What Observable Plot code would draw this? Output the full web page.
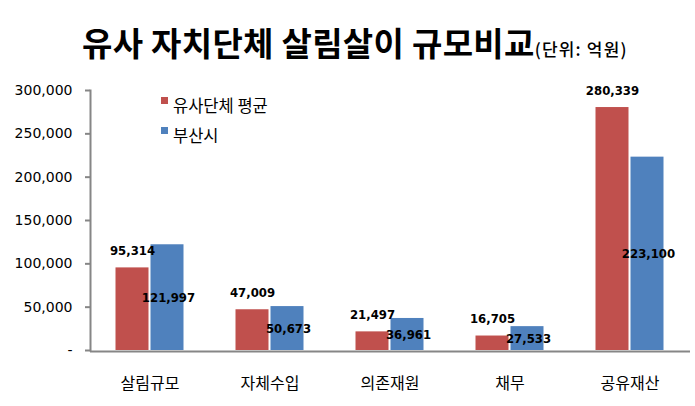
<!DOCTYPE html>
<html>
<head>
<meta charset="utf-8">
<script src="https://cdn.jsdelivr.net/npm/d3@7"></script>
<script src="https://cdn.jsdelivr.net/npm/@observablehq/plot@0.6"></script>
<style>
  html, body { margin: 0; padding: 0; background: #fff; }
  #wrap { position: relative; width: 695px; height: 406px; overflow: hidden; background: #fff; }
  #title { position: absolute; left: 82px; top: 26px; white-space: nowrap; line-height: 32px;
           font-family: "Noto Sans CJK KR", sans-serif; color: #000; }
  #title .main { font-size: 33px; font-weight: 700; letter-spacing: 0.3px; }
  #title .unit { font-size: 17px; font-weight: 500; letter-spacing: 1.2px; }
  #chart { position: absolute; left: 0; top: 70px; }
  #legend { position: absolute; left: 161px; top: 90px; font-family: "Noto Sans CJK KR", sans-serif;
            font-size: 16.5px; color: #000; }
  #legend .item { position: relative; height: 30px; line-height: 30px; padding-left: 12px; white-space: nowrap; }
  #legend .sw { position: absolute; left: 0; top: 7px; width: 7px; height: 7px; }
</style>
</head>
<body>
<div id="wrap">
  <div id="title"><span class="main">유사 자치단체 살림살이 규모비교</span><span class="unit">(단위: 억원)</span></div>
  <div id="chart"></div>
  <div id="legend"></div>
</div>
<script>
const categories = ["살림규모", "자체수입", "의존재원", "채무", "공유재산"];
const seriesNames = ["유사단체 평균", "부산시"];
const avgValues = [95314, 47009, 21497, 16705, 280339];
const busanValues = [121997, 50673, 36961, 27533, 223100];
const yTicks = [0, 50000, 100000, 150000, 200000, 250000, 300000];
const seriesColors = ["#C0504D", "#4F81BD"];

const avgData = categories.map((c, i) => ({category: c, series: seriesNames[0], value: avgValues[i]}));
const busanData = categories.map((c, i) => ({category: c, series: seriesNames[1], value: busanValues[i]}));

const fmt = d3.format(",");
const labelStyle = {fontWeight: "bold", fontSize: 13, fontFamily: "DejaVu Sans Condensed", fill: "#000"};

const chart = Plot.plot({
  width: 695,
  height: 336,
  marginLeft: 90,
  marginRight: 5,
  marginTop: 20,
  marginBottom: 56,
  style: {background: "#fff", overflow: "visible"},
  x: {domain: categories, paddingInner: 0.7245, paddingOuter: 0.36225},
  y: {domain: [0, 300000]},
  color: {domain: seriesNames, range: seriesColors},
  marks: [
    Plot.barY(avgData, {x: "category", y: "value", fill: "series", dx: -17.5}),
    Plot.barY(busanData, {x: "category", y: "value", fill: "series", dx: 17.5}),
    Plot.ruleY([0], {stroke: "#868686", strokeWidth: 2, dy: 1}),
    Plot.frame({anchor: "left", stroke: "#868686", strokeWidth: 2}),
    Plot.axisY({ticks: yTicks, tickFormat: d => d === 0 ? "-" : fmt(d), tickSize: 5, tickPadding: 13,
      stroke: "#868686", strokeWidth: 2, fill: "#000", fontSize: 14, fontFamily: "DejaVu Sans", label: null}),
    Plot.axisX({tickSize: 0, tickPadding: 27, fill: "#000", fontSize: 16, fontFamily: "Noto Sans CJK KR", label: null}),
    Plot.text(avgData, {x: "category", y: "value", text: d => fmt(d.value), dx: -17.5, dy: -17, ...labelStyle}),
    Plot.text(busanData, {x: "category", y: d => d.value / 2, text: d => fmt(d.value), dx: 18.5, dy: 0, ...labelStyle})
  ]
});
document.getElementById("chart").appendChild(chart);

const legend = document.getElementById("legend");
seriesNames.forEach((s, i) => {
  const item = document.createElement("div");
  item.className = "item";
  const sw = document.createElement("span");
  sw.className = "sw";
  sw.style.background = seriesColors[i];
  item.appendChild(sw);
  item.appendChild(document.createTextNode(s));
  legend.appendChild(item);
});
</script>
</body>
</html>
